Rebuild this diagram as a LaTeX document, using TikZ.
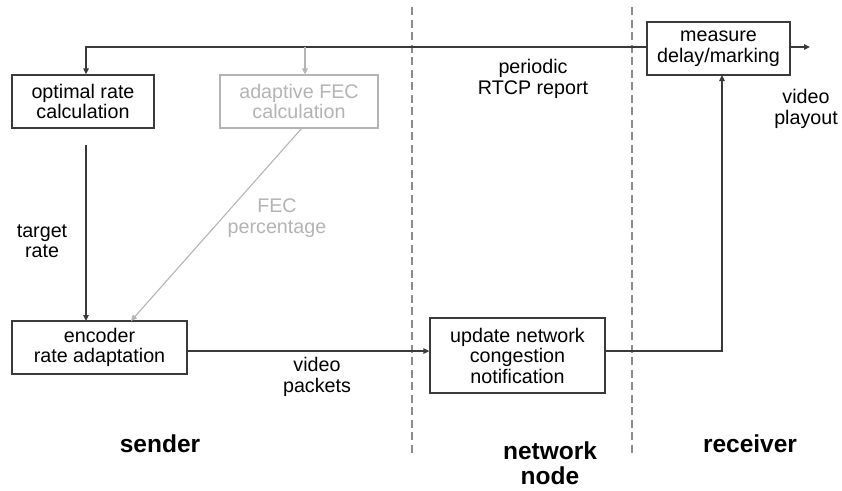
\documentclass[tikz,border=0pt]{standalone}
\usepackage{fontspec}
\setmainfont{Liberation Sans}
\usetikzlibrary{arrows.meta}
\definecolor{inkdark}{HTML}{3A3A3A}
\definecolor{inklight}{HTML}{B4B4B4}
\definecolor{divider}{HTML}{8C8C8C}
\tikzset{
  every node/.style={font=\fontsize{19.7}{20.5}\selectfont, align=center, inner sep=0pt},
  block/.style={draw=inkdark, line width=1.3pt, fill=white},
  fadedblock/.style={draw=inklight, line width=1.1pt, text=inklight, fill=white},
  flow/.style={draw=inkdark, line width=1.3pt, -{Triangle[length=6pt,width=5.5pt]}},
  fadedflow/.style={draw=inklight, line width=1.1pt, -{Triangle[length=6pt,width=5.5pt]}},
  lane/.style={draw=divider, line width=1.5pt, dash pattern=on 8pt off 4.5pt},
  zone/.style={font=\fontsize{24.5}{25.5}\selectfont\bfseries}
}
\begin{document}
\begin{tikzpicture}[x=1pt,y=-1pt]
\useasboundingbox (0,0) rectangle (842,490);

% lane dividers
\coordinate (d1t) at (412,7);  \coordinate (d1b) at (412,454);
\coordinate (d2t) at (632,7);  \coordinate (d2b) at (632,454);
\draw[lane] (d1t) -- (d1b);
\draw[lane] (d2t) -- (d2b);

% processing blocks
\node[block, minimum width=142pt, minimum height=53pt] (opt) at (83,101.5) {optimal rate\\calculation};
\node[fadedblock, minimum width=158pt, minimum height=53pt] (fec) at (299,101.5) {adaptive FEC\\calculation};
\node[block, minimum width=143pt, minimum height=53pt] (meas) at (718.5,48.5) {measure\\delay/marking};
\node[block, minimum width=175pt, minimum height=53pt] (enc) at (99.5,347.5) {encoder\\rate adaptation};
\node[block, minimum width=175pt, minimum height=75pt] (upd) at (517.5,355.5) {update network\\congestion\\notification};

% helper points for the connectors
\coordinate (fbturn) at (86,47);
\coordinate (fectap) at (305,47);
\coordinate (out) at (810,47);
\coordinate (rtstart) at (86,145);
\coordinate (rtend) at (86,321);
\coordinate (fecstart) at (302,128);
\coordinate (fecend) at (131,321);
\coordinate (upturn) at (722,351);
\coordinate (meassouth) at (722,75);

% feedback report to the sender
\draw[flow] (meas.west |- fbturn) -- (fbturn) -- (opt.north -| fbturn);
\draw[fadedflow] (fectap) -- (fec.north -| fectap);
% playout output
\draw[flow] (meas.east |- out) -- (out);
% target rate
\draw[flow] (rtstart) -- (rtend);
% FEC percentage
\draw[fadedflow] (fecstart) -- (fecend);
% video packets through the network
\draw[flow] (enc.east |- upturn) -- (upd.west |- upturn);
\draw[flow] (upd.east |- upturn) -- (upturn) -- (meassouth);

% connector labels
\node (lrate) at (42,241) {target\\rate};
\node[text=inklight] (lfec) at (277,218) {FEC\\percentage};
\node (lrtcp) at (533,79) {periodic\\RTCP report};
\node (lplay) at (806,109) {video\\playout};
\node (lpkt) at (317,377) {video\\packets};

% zone titles
\node[zone] (zs) at (160,444) {sender};
\node[zone] (zn) at (550,463) {network\\node};
\node[zone] (zr) at (750,444) {receiver};
\end{tikzpicture}
\end{document}
